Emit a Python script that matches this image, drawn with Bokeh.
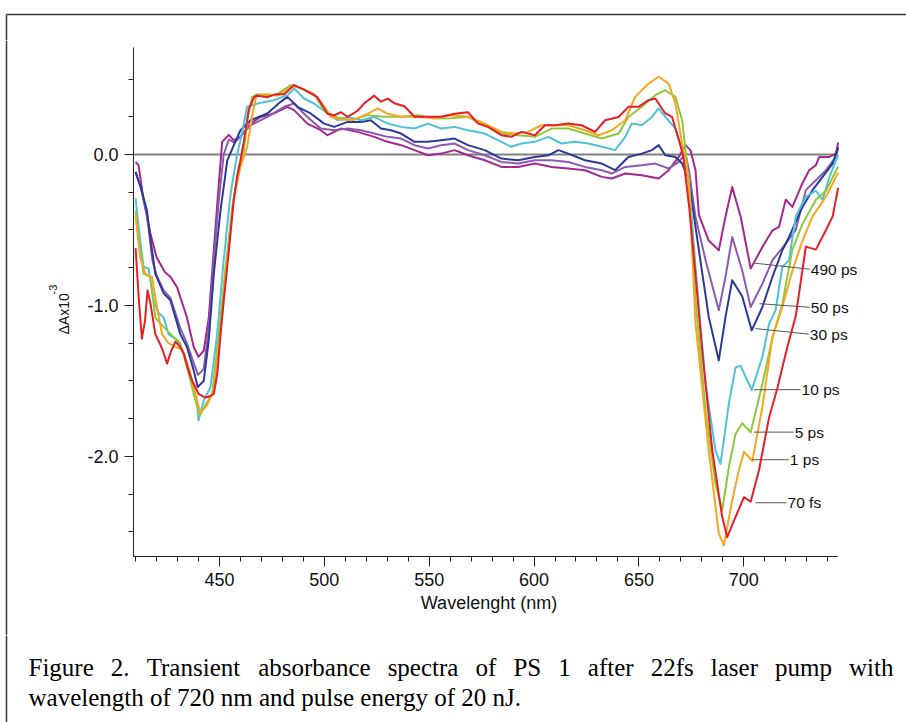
from bokeh.plotting import figure
from bokeh.layouts import column, row
from bokeh.models import Range1d, FixedTicker, PrintfTickFormatter, Label
from bokeh.embed import file_html
from bokeh.resources import INLINE

# ---------------- data (wavelength nm, dA x1e-3) ----------------
s_70fs = [(410.0,-0.62),(411.5,-0.95),(413.0,-1.22),(414.5,-1.10),(415.7,-0.90),(417.0,-0.98),(419.4,-1.19),(421.5,-1.25),
 (423.0,-1.30),(425.0,-1.385),(427.0,-1.30),(429.0,-1.24),(431.0,-1.27),(433.0,-1.32),(435.0,-1.42),(437.0,-1.50),
 (440.0,-1.585),(443.3,-1.61),(445.7,-1.60),(447.3,-1.585),(449.0,-1.45),(450.5,-1.19),(452.0,-0.97),(453.7,-0.745),
 (455.3,-0.52),(456.8,-0.30),(458.5,-0.14),(460.0,-0.04),(462.0,0.12),(464.0,0.30),(466.5,0.38),(468.0,0.39),
 (472.8,0.38),(477.0,0.40),(481.0,0.40),(485.6,0.46),(490.3,0.43),(496.7,0.38),(501.5,0.27),(504.7,0.26),
 (507.9,0.28),(511.1,0.25),(515.9,0.29),(519.1,0.34),(523.8,0.39),(527.0,0.35),(530.2,0.37),(533.4,0.34),
 (538.2,0.32),(543.0,0.25),(549.4,0.25),(555.7,0.25),(562.1,0.27),(568.5,0.28),(573.3,0.205),(578.1,0.183),
 (584.4,0.128),(589.2,0.117),(594.0,0.15),(600.4,0.128),(605.2,0.194),(610.0,0.194),(616.3,0.205),(622.7,0.194),
 (629.1,0.150),(633.9,0.227),(640.3,0.249),(645.0,0.316),(649.8,0.316),(654.6,0.36),(657.8,0.371),(662.6,0.272),
 (665.8,0.249),(669.0,0.10),(671.0,0.0),(674.0,-0.35),(677.0,-0.80),(680.2,-1.30),(685.0,-1.96),(689.7,-2.40),
 (692.1,-2.535),(696.1,-2.40),(700.1,-2.27),(703.3,-2.30),(707.3,-2.09),(712.1,-1.74),(716.0,-1.55),(718.4,-1.41),
 (720.8,-1.275),(724.8,-1.07),(729.6,-0.61),(734.4,-0.63),(739.2,-0.50),(742.4,-0.41),(745.0,-0.22)]

s_1ps = [(410.0,-0.41),(412.2,-0.68),(414.6,-0.79),(417.8,-0.81),(420.2,-1.01),(422.6,-1.19),(425.7,-1.25),(429.0,-1.275),
 (432.2,-1.29),(435.3,-1.41),(439.3,-1.63),(440.9,-1.71),(444.1,-1.66),(447.3,-1.56),(450.5,-1.19),(453.7,-0.70),
 (456.8,-0.30),(460.0,-0.08),(463.2,0.05),(465.5,0.25),(467.5,0.38),(470.0,0.40),(472.8,0.40),(477.6,0.39),
 (480.8,0.415),(485.0,0.46),(490.3,0.43),(495.1,0.40),(499.9,0.32),(503.1,0.25),(507.9,0.23),(514.3,0.23),
 (520.6,0.27),(525.4,0.305),(530.2,0.27),(536.6,0.25),(544.6,0.25),(552.5,0.24),(560.5,0.26),(568.5,0.25),
 (576.5,0.205),(584.4,0.15),(590.8,0.139),(597.2,0.15),(603.6,0.194),(610.0,0.194),(616.3,0.194),(624.3,0.161),
 (630.7,0.128),(637.1,0.161),(643.5,0.227),(648.2,0.382),(654.6,0.47),(659.4,0.515),(664.2,0.47),(667.4,0.338),
 (670.6,0.073),(673.8,-0.17),(677.0,-1.12),(683.3,-1.96),(688.1,-2.51),(690.5,-2.59),(694.5,-2.29),(697.7,-2.09),
 (700.1,-1.97),(704.1,-2.03),(708.9,-1.67),(713.7,-1.21),(718.4,-1.01),(723.2,-0.77),(728.0,-0.57),(732.8,-0.41),
 (739.2,-0.28),(745.0,-0.12)]

s_5ps = [(410.0,-0.37),(411.8,-0.60),(413.8,-0.79),(417.0,-0.81),(419.4,-1.08),(421.8,-1.12),(425.0,-1.165),(428.1,-1.21),
 (431.3,-1.25),(434.5,-1.41),(437.7,-1.585),(440.6,-1.73),(443.3,-1.66),(446.5,-1.585),(449.7,-1.19),(452.9,-0.745),
 (456.1,-0.35),(459.2,-0.08),(461.6,0.03),(463.5,0.25),(465.5,0.38),(468.0,0.40),(472.8,0.39),(477.6,0.40),
 (484.0,0.46),(488.7,0.44),(495.1,0.40),(499.9,0.294),(504.7,0.25),(512.7,0.227),(520.6,0.261),(528.6,0.25),
 (536.6,0.25),(544.6,0.26),(552.5,0.238),(560.5,0.24),(568.5,0.25),(576.5,0.194),(584.4,0.139),(592.4,0.128),
 (600.4,0.117),(608.4,0.172),(616.3,0.172),(624.3,0.139),(632.3,0.106),(640.3,0.139),(645.0,0.249),(651.4,0.316),
 (657.8,0.393),(662.6,0.426),(667.4,0.382),(670.6,0.227),(672.5,0.0),(674.5,-0.35),(677.0,-0.966),(681.8,-1.695),
 (686.5,-2.18),(689.7,-2.36),(692.9,-2.07),(696.1,-1.85),(699.3,-1.78),(703.3,-1.84),(708.9,-1.52),(713.7,-1.21),
 (718.4,-0.99),(723.2,-0.63),(728.0,-0.46),(734.4,-0.30),(739.2,-0.24),(745.0,-0.08)]

s_10ps = [(410.0,-0.29),(412.0,-0.55),(413.8,-0.745),(416.2,-0.755),(418.6,-0.966),(421.0,-1.05),(423.4,-1.08),(425.7,-1.19),
 (429.8,-1.23),(433.0,-1.32),(436.1,-1.47),(439.3,-1.65),(440.0,-1.76),(442.5,-1.63),(445.7,-1.54),(448.9,-1.19),
 (452.0,-0.70),(455.3,-0.26),(458.5,0.007),(460.0,0.095),(463.2,0.316),(468.0,0.338),(476.0,0.36),(482.4,0.393),
 (485.6,0.437),(490.3,0.371),(495.1,0.338),(501.5,0.272),(506.3,0.227),(511.1,0.249),(517.5,0.227),(523.8,0.249),
 (530.2,0.205),(536.6,0.183),(543.0,0.172),(549.4,0.205),(555.7,0.172),(562.1,0.183),(568.5,0.161),(576.5,0.139),
 (584.4,0.084),(589.2,0.051),(594.0,0.073),(600.4,0.084),(606.8,0.117),(613.1,0.073),(619.5,0.084),(625.9,0.073),
 (632.3,0.051),(638.7,0.029),(643.5,0.117),(646.6,0.205),(651.4,0.194),(656.2,0.249),(659.4,0.305),(662.6,0.249),
 (667.4,0.172),(670.6,0.029),(673.8,-0.17),(677.0,-0.745),(681.8,-1.52),(686.5,-1.96),(688.9,-2.05),(692.9,-1.65),
 (696.1,-1.41),(698.5,-1.40),(703.8,-1.56),(708.9,-1.34),(712.1,-1.12),(715.2,-1.03),(718.4,-0.745),(721.6,-0.70),
 (724.8,-0.41),(729.6,-0.28),(734.4,-0.24),(737.6,-0.30),(740.8,-0.15),(744.0,-0.04),(745.0,0.0)]

s_30ps = [(410.0,-0.115),(412.5,-0.22),(415.4,-0.37),(417.5,-0.60),(419.4,-0.79),(423.4,-0.92),(426.6,-0.966),(431.3,-1.19),
 (434.5,-1.275),(437.7,-1.43),(439.6,-1.54),(442.5,-1.50),(444.9,-1.23),(447.3,-0.79),(450.5,-0.37),(453.7,-0.04),
 (456.8,0.06),(460.0,0.161),(464.8,0.227),(472.8,0.272),(479.2,0.349),(482.4,0.382),(487.2,0.316),(493.5,0.272),
 (499.9,0.205),(504.7,0.183),(511.1,0.216),(517.5,0.216),(522.2,0.227),(527.0,0.172),(531.8,0.161),(536.6,0.139),
 (543.0,0.084),(549.4,0.084),(555.7,0.095),(562.1,0.106),(568.5,0.062),(576.5,0.029),(584.4,-0.027),(592.4,-0.038),
 (600.4,-0.016),(606.8,-0.005),(611.6,0.029),(616.3,0.006),(624.3,-0.038),(632.3,-0.060),(638.7,-0.104),(645.0,-0.016),
 (651.4,0.006),(656.2,0.029),(659.4,0.062),(662.6,-0.005),(667.4,-0.016),(670.6,-0.060),(673.8,-0.17),(678.6,-0.634),
 (683.3,-1.076),(688.1,-1.364),(691.3,-1.076),(694.5,-0.833),(699.3,-0.94),(703.8,-1.165),(708.9,-1.01),(713.7,-0.81),
 (718.4,-0.634),(721.6,-0.546),(728.0,-0.347),(732.8,-0.236),(737.6,-0.148),(742.4,-0.06),(745.0,0.05)]

s_50ps = [(410.0,-0.12),(412.5,-0.22),(415.4,-0.40),(418.0,-0.70),(420.0,-0.80),(423.4,-0.90),(426.6,-0.95),(431.3,-1.15),
 (434.5,-1.25),(437.7,-1.38),(439.8,-1.46),(442.5,-1.42),(444.9,-1.15),(447.3,-0.70),(449.7,-0.30),(452.0,0.0),
 (454.5,0.10),(456.8,0.08),(458.4,0.095),(464.8,0.194),(472.8,0.249),(480.8,0.316),(485.6,0.338),(491.9,0.249),
 (498.3,0.172),(504.7,0.161),(511.1,0.172),(517.5,0.161),(523.8,0.139),(530.2,0.117),(536.6,0.106),(543.0,0.062),
 (549.4,0.040),(555.7,0.062),(562.1,0.073),(568.5,0.029),(576.5,-0.005),(584.4,-0.049),(592.4,-0.060),(600.4,-0.038),
 (608.4,-0.038),(616.3,-0.049),(624.3,-0.082),(632.3,-0.104),(637.1,-0.126),(643.5,-0.082),(651.4,-0.071),(657.8,-0.060),
 (664.2,-0.093),(669.0,-0.049),(672.2,0.006),(673.8,-0.10),(677.0,-0.413),(681.8,-0.70),(688.1,-1.032),(691.3,-0.81),
 (694.5,-0.546),(699.3,-0.77),(703.3,-1.01),(708.9,-0.855),(713.7,-0.70),(720.0,-0.59),(724.8,-0.50),(729.6,-0.236),
 (734.4,-0.17),(739.2,-0.104),(744.0,-0.016),(745.0,0.04)]

s_490ps = [(410.0,-0.05),(411.4,-0.07),(413.8,-0.30),(417.0,-0.52),(420.0,-0.68),(424.0,-0.78),(426.6,-0.81),(429.8,-0.88),
 (434.5,-1.08),(437.7,-1.275),(440.0,-1.34),(442.5,-1.30),(444.9,-1.08),(447.3,-0.63),(449.7,-0.19),(451.3,0.085),
 (454.4,0.13),(456.8,0.095),(460.0,0.117),(464.8,0.205),(469.6,0.249),(476.0,0.272),(482.4,0.316),(485.6,0.294),
 (491.9,0.205),(498.3,0.161),(501.5,0.128),(507.9,0.172),(515.9,0.150),(523.8,0.117),(530.2,0.084),(536.6,0.062),
 (543.0,0.029),(549.4,-0.005),(555.7,0.006),(562.1,0.029),(568.5,-0.005),(576.5,-0.038),(584.4,-0.082),(592.4,-0.082),
 (600.4,-0.060),(608.4,-0.082),(616.3,-0.093),(624.3,-0.104),(632.3,-0.148),(637.1,-0.159),(643.5,-0.126),(651.4,-0.137),
 (659.4,-0.159),(664.2,-0.104),(669.0,-0.016),(672.2,0.062),(674.6,0.029),(677.0,-0.104),(678.6,-0.40),(683.3,-0.57),
 (688.1,-0.634),(691.3,-0.41),(694.5,-0.215),(698.5,-0.41),(703.3,-0.756),(708.9,-0.612),(713.7,-0.502),(716.8,-0.48),
 (720.0,-0.30),(723.2,-0.347),(728.0,-0.19),(731.2,-0.104),(734.4,-0.07),(736.0,-0.016),(740.8,-0.016),(744.0,0.006),
 (745.0,0.08)]

series_names = ["490 ps", "50 ps", "30 ps", "10 ps", "5 ps", "1 ps", "70 fs"]
series_data = [s_490ps, s_50ps, s_30ps, s_10ps, s_5ps, s_1ps, s_70fs]
series_colors = ["#a3288f", "#8b5bb0", "#2c3a96", "#4ec3d8", "#8dc840", "#f6a722", "#e61f26"]

# curve labels (data coords): leader start, label anchor
label_lead_x0 = [704.8, 707.5, 705.6, 704.8, 704.8, 704.0, 705.6]
label_lead_y0 = [-0.719, -0.988, -1.153, -1.558, -1.839, -2.022, -2.307]
label_x = [731.5, 731.5, 731.0, 727.1, 723.8, 721.5, 720.4]
label_y = [-0.760, -1.012, -1.190, -1.558, -1.839, -2.022, -2.307]

x_major = [450, 500, 550, 600, 650, 700]
x_minor = list(range(410, 750, 10))
y_major = [-2.0, -1.0, 0.0]
y_minor = [0.5, 0.25, -0.25, -0.5, -0.75, -1.25, -1.5, -1.75, -2.25, -2.5]

y_title = "\u0394Ax10"
y_title_sup = "-3"
x_title = "Wavelenght (nm)"
caption_line1 = "Figure 2. Transient absorbance spectra of PS 1 after 22fs laser pump with"
caption_line2 = "wavelength of 720 nm and pulse energy of 20 nJ."

# ---------------- geometry (window pixels) ----------------
W, H = 906, 722
TOP_H = 40            # strip holding the top border
ROW_H = 595           # chart row height (window y 40..635)
CAP_H = H - TOP_H - ROW_H
YL_W = 75             # strip holding y title
FRAME_L, FRAME_T, FRAME_B = 133, 47, 556
FRAME_R = 862         # frame extends past the axis end to hold the curve labels
CH_W = FRAME_R - YL_W
AX_X0, AX_X1 = 409.0, 744.7          # x-axis extent (nm)
Y0, Y1 = -2.663, 0.709
PX_PER_NM = (837 - FRAME_L) / (AX_X1 - AX_X0)
X_END = AX_X0 + (FRAME_R - FRAME_L) / PX_PER_NM
BORDER_X, BORDER_Y = 6, 14
BORDER_COL = "#3a3a3a"
SANS = "Liberation Sans"
SERIF = "Liberation Serif"


def no_align(f):
    if "frame_align" in f.properties():
        f.frame_align = False


def pixel_fig(w, h):
    f = figure(width=w, height=h, x_range=Range1d(0, w), y_range=Range1d(h, 0),
               output_backend="svg", toolbar_location=None,
               x_axis_location=None, y_axis_location=None,
               min_border_left=0, min_border_right=0, min_border_top=0, min_border_bottom=0)
    f.grid.visible = False
    f.outline_line_color = None
    f.background_fill_color = "white"
    f.border_fill_color = "white"
    no_align(f)
    return f


# top strip: top border
top = pixel_fig(W, TOP_H)
top.line([BORDER_X, W], [BORDER_Y, BORDER_Y], line_color=BORDER_COL, line_width=1.5)
top.line([BORDER_X, BORDER_X], [BORDER_Y, TOP_H], line_color=BORDER_COL, line_width=1.5)

# y title strip
yl = pixel_fig(YL_W, ROW_H)
yl.line([BORDER_X, BORDER_X], [0, ROW_H], line_color=BORDER_COL, line_width=1.5)
yl.add_layout(Label(x=63, y=334 - TOP_H, text=y_title, angle=1.5707963, text_font=SANS,
                    text_font_size="14px", text_align="left", text_baseline="alphabetic", text_color="#111111"))
yl.add_layout(Label(x=52, y=294 - TOP_H, text=y_title_sup, angle=1.5707963, text_font=SANS,
                    text_font_size="11px", text_align="left", text_baseline="alphabetic", text_color="#111111"))

# main chart
p = figure(width=CH_W, height=ROW_H, x_range=Range1d(AX_X0, X_END), y_range=Range1d(Y0, Y1),
           output_backend="svg", toolbar_location=None,
           min_border_left=FRAME_L - YL_W, min_border_right=0,
           min_border_top=FRAME_T - TOP_H, min_border_bottom=TOP_H + ROW_H - FRAME_B)
no_align(p)
p.outline_line_color = None
p.xgrid.visible = False
p.ygrid.visible = False
p.background_fill_color = "white"
p.border_fill_color = "white"

for ax in (p.xaxis[0], p.yaxis[0]):
    ax.axis_line_color = "#222222"
    ax.axis_line_width = 1
    ax.major_tick_line_color = "#222222"
    ax.minor_tick_line_color = "#222222"
    ax.major_tick_in = 0
    ax.minor_tick_in = 0
    ax.major_label_text_font = SANS
    ax.major_label_text_font_size = "18px"
    ax.major_label_text_color = "#111111"

p.xaxis.bounds = (AX_X0, AX_X1)
p.xaxis.ticker = FixedTicker(ticks=x_major, minor_ticks=x_minor)
p.xaxis.major_tick_out = 10
p.xaxis.minor_tick_out = 5
p.xaxis.major_label_standoff = 6
# two en-spaces keep the centred title over the drawn axis rather than the wider frame
p.xaxis.axis_label = x_title + "\u2002\u2002"
p.xaxis.axis_label_text_font = SANS
p.xaxis.axis_label_text_font_size = "18px"
p.xaxis.axis_label_text_font_style = "normal"
p.xaxis.axis_label_text_color = "#111111"
p.xaxis.axis_label_standoff = 4

p.yaxis.ticker = FixedTicker(ticks=y_major, minor_ticks=y_minor)
p.yaxis.formatter = PrintfTickFormatter(format="%.1f")
p.yaxis.major_tick_out = 9
p.yaxis.minor_tick_out = 5
p.yaxis.major_label_standoff = 6

# zero reference line across the axis extent
p.segment(x0=[AX_X0], y0=[0], x1=[AX_X1], y1=[0], line_color="#808080", line_width=2)

for data, col in zip(series_data, series_colors):
    xs = [d[0] for d in data]
    ys = [d[1] for d in data]
    p.line(xs, ys, line_color=col, line_width=2, line_join="round")

p.segment(x0=label_lead_x0, y0=label_lead_y0, x1=label_x, y1=label_y, line_color="#555555", line_width=1)
for name, lx, ly in zip(series_names, label_x, label_y):
    p.add_layout(Label(x=lx, y=ly, x_offset=1, text=name, text_font=SANS, text_font_size="15.5px",
                       text_align="left", text_baseline="middle", text_color="#111111"))

# caption strip
cap = pixel_fig(W, CAP_H)
cap.line([BORDER_X, BORDER_X], [0, CAP_H], line_color=BORDER_COL, line_width=1.5)
TW = {'a': .444, 'b': .5, 'c': .444, 'd': .5, 'e': .444, 'f': .333, 'g': .5, 'h': .5, 'i': .278, 'j': .278,
      'k': .5, 'l': .278, 'm': .778, 'n': .5, 'o': .5, 'p': .5, 'r': .333, 's': .389, 't': .278, 'u': .5,
      'v': .5, 'w': .722, 'x': .5, 'y': .5, 'F': .556, 'P': .556, 'S': .556, 'T': .611, 'J': .389, '.': .25, ' ': .25}


def tw(s):
    return sum(TW.get(c, 0.5) for c in s)


CAP_SIZE = 25
CAP_L, CAP_R = 28, 893
BASE1, BASE2 = 667, 697
cap_top = TOP_H + ROW_H
words = caption_line1.split()
gap = (CAP_R - CAP_L - sum(tw(w) for w in words) * CAP_SIZE) / (len(words) - 1)
cx = float(CAP_L)
for w in words:
    cap.add_layout(Label(x=cx, y=BASE1 - cap_top, text=w, text_font=SERIF, text_font_size=f"{CAP_SIZE}px",
                         text_align="left", text_baseline="alphabetic", text_color="#000000"))
    cx += tw(w) * CAP_SIZE + gap
cap.add_layout(Label(x=CAP_L, y=BASE2 - cap_top, text=caption_line2, text_font=SERIF,
                     text_font_size=f"{CAP_SIZE}px", text_align="left", text_baseline="alphabetic",
                     text_color="#000000"))

layout = column(top, row(yl, p), cap)
open("out.html", "w").write(file_html(layout, INLINE))
